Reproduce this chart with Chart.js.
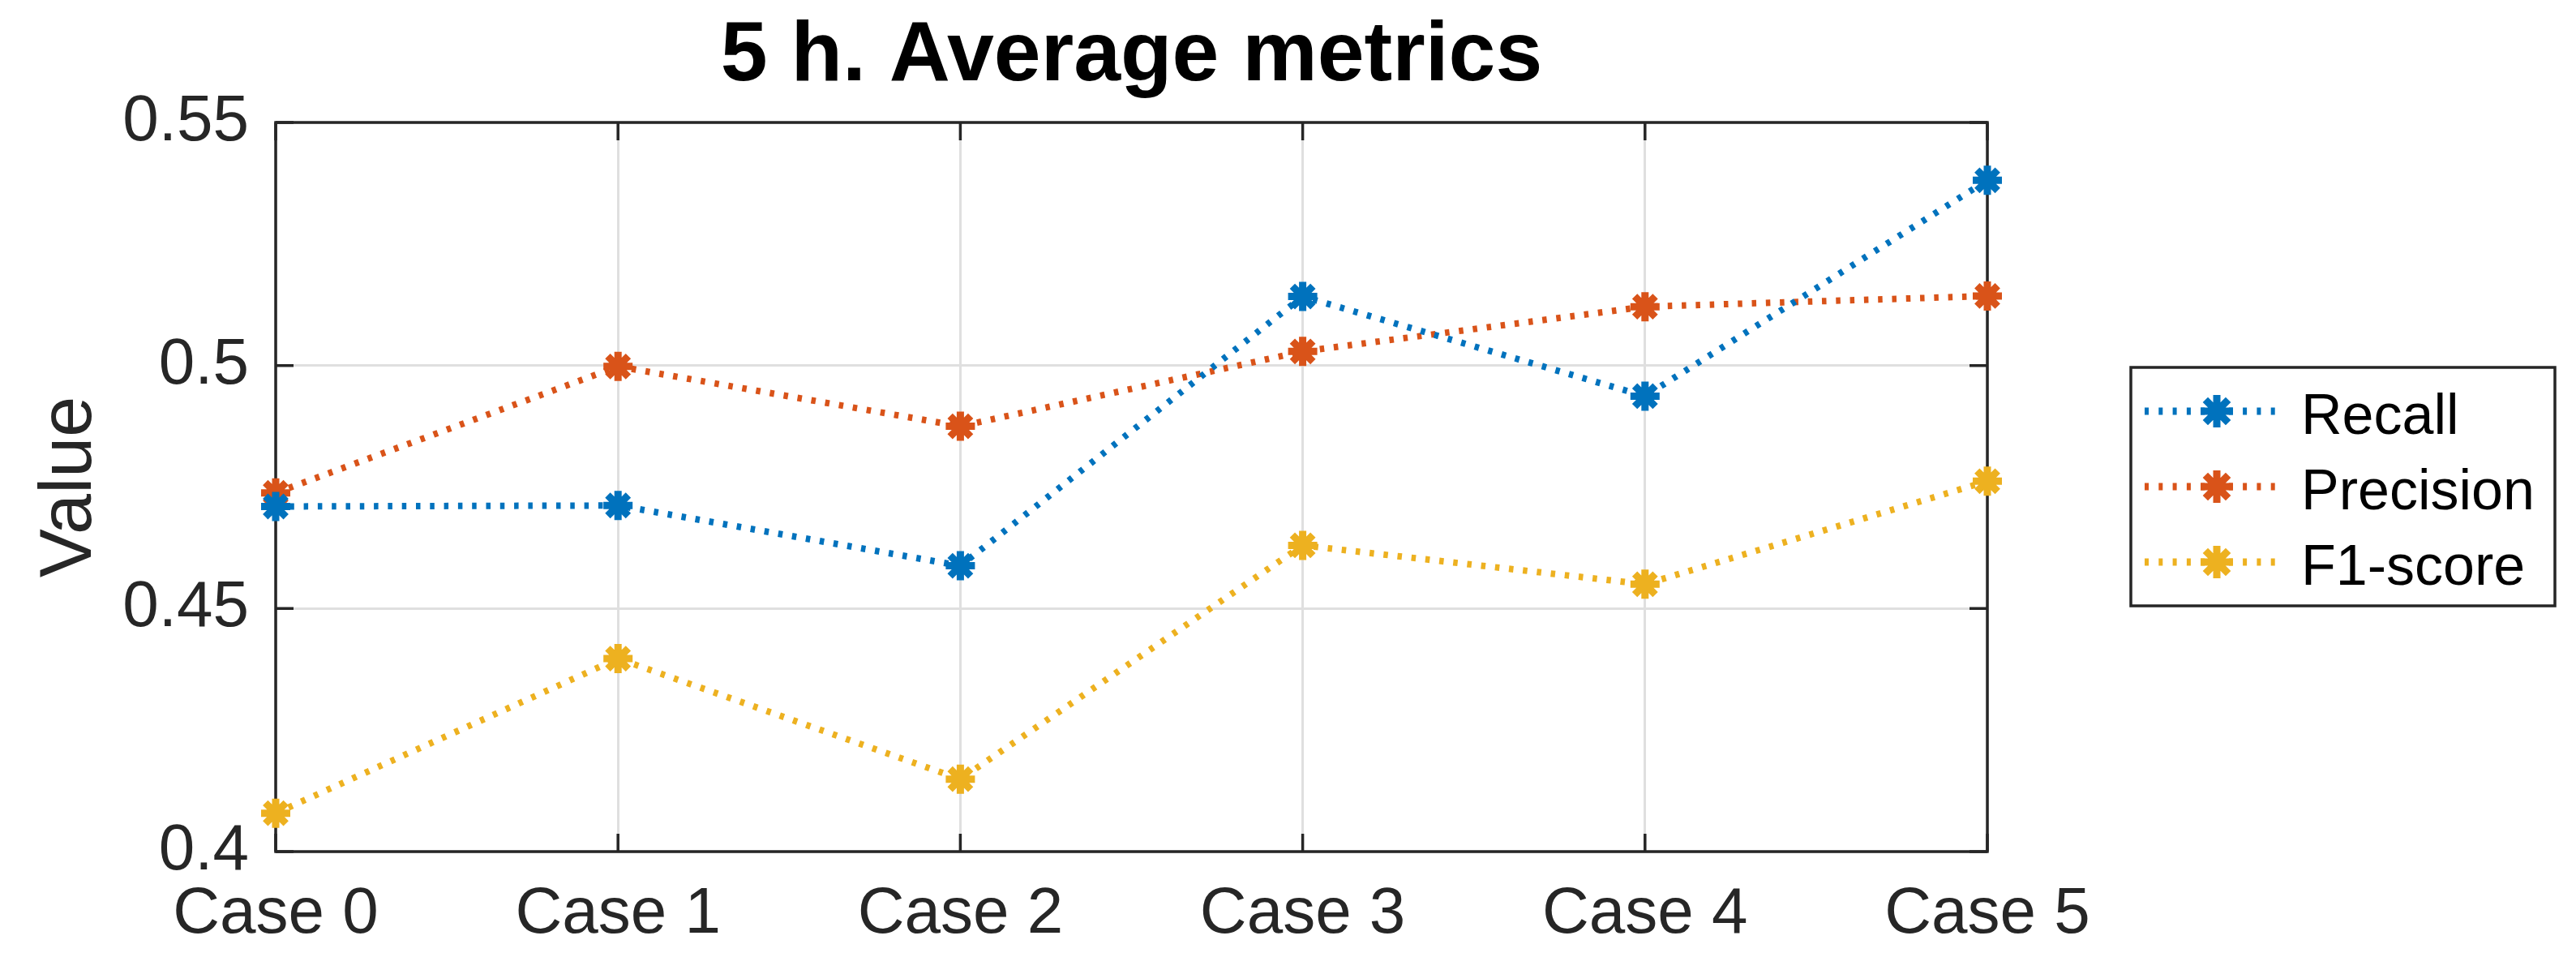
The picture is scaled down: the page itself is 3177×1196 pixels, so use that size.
<!DOCTYPE html>
<html>
<head>
<meta charset="utf-8">
<script src="https://cdn.jsdelivr.net/npm/chart.js@4"></script>
<style>
  html, body { margin: 0; padding: 0; background: #fff; }
  canvas { display: block; }
</style>
</head>
<body>
<canvas id="c" width="3177" height="1196"></canvas>
<script>
const categories = ['Case 0', 'Case 1', 'Case 2', 'Case 3', 'Case 4', 'Case 5'];
const recall    = [0.4710, 0.4712, 0.4588, 0.5142, 0.4937, 0.5381];
const precision = [0.4738, 0.4998, 0.4875, 0.5029, 0.5121, 0.5143];
const f1score   = [0.4079, 0.4397, 0.4149, 0.4630, 0.4550, 0.4762];
const seriesNames = ['Recall', 'Precision', 'F1-score'];
const seriesColors = ['#0072BD', '#D95319', '#EDB120'];
const yTicks = [0.4, 0.45, 0.5, 0.55];
const yMin = 0.4, yMax = 0.55;

const FONT = '"Liberation Sans", Arial, Helvetica, sans-serif';
const AXIS_COLOR = '#262626';

function makeDataset(label, data, color) {
  return {
    label: label,
    data: data,
    borderColor: color,
    backgroundColor: color,
    borderWidth: 8,
    borderDash: [5.5, 11.8],
    borderCapStyle: 'butt',
    tension: 0,
    fill: false,
    pointStyle: 'star',
    pointRadius: 18,
    pointHoverRadius: 18,
    pointBorderWidth: 9,
    pointBorderColor: color,
    pointBackgroundColor: color,
    clip: false
  };
}

const boxPlugin = {
  id: 'boxPlugin',
  beforeDatasetsDraw(chart) {
    const ctx = chart.ctx;
    const a = chart.chartArea;
    const xs = chart.scales.x, ys = chart.scales.y;
    const tl = 22;
    ctx.save();
    ctx.strokeStyle = AXIS_COLOR;
    ctx.lineWidth = 3.5;
    ctx.setLineDash([]);
    ctx.beginPath();
    xs.ticks.forEach((t, i) => {
      const px = xs.getPixelForTick(i);
      ctx.moveTo(px, a.bottom); ctx.lineTo(px, a.bottom - tl);
      ctx.moveTo(px, a.top); ctx.lineTo(px, a.top + tl);
    });
    ys.ticks.forEach((t) => {
      const py = ys.getPixelForValue(t.value);
      ctx.moveTo(a.left, py); ctx.lineTo(a.left + tl, py);
      ctx.moveTo(a.right, py); ctx.lineTo(a.right - tl, py);
    });
    ctx.stroke();
    ctx.strokeRect(a.left, a.top, a.right - a.left, a.bottom - a.top);
    ctx.restore();
  }
};

const legendPlugin = {
  id: 'boxLegend',
  afterDraw(chart) {
    const ctx = chart.ctx;
    const left = 2628, top = 453, right = 3151, bottom = 747;
    ctx.save();
    ctx.fillStyle = '#ffffff';
    ctx.fillRect(left, top, right - left, bottom - top);
    ctx.strokeStyle = AXIS_COLOR;
    ctx.lineWidth = 3.5;
    ctx.setLineDash([]);
    ctx.strokeRect(left, top, right - left, bottom - top);
    const rowY = [507, 600, 693];
    chart.data.datasets.forEach((ds, i) => {
      const y = rowY[i];
      ctx.strokeStyle = ds.borderColor;
      ctx.lineWidth = 9;
      ctx.setLineDash([5, 12.3]);
      ctx.lineCap = 'butt';
      ctx.beginPath();
      ctx.moveTo(2645, y);
      ctx.lineTo(2810, y);
      ctx.stroke();
      ctx.setLineDash([]);
      ctx.strokeStyle = ds.pointBorderColor;
      ctx.fillStyle = ds.pointBackgroundColor;
      ctx.lineWidth = ds.pointBorderWidth;
      Chart.helpers.drawPoint(ctx, {
        pointStyle: 'star', radius: 20, borderWidth: ds.pointBorderWidth, rotation: 0
      }, 2734, y);
      ctx.fillStyle = '#000000';
      ctx.font = '70px ' + FONT;
      ctx.textBaseline = 'alphabetic';
      ctx.textAlign = 'left';
      ctx.fillText(ds.label, 2838, y + 28);
    });
    ctx.restore();
  }
};

const chart = new Chart(document.getElementById('c'), {
  type: 'line',
  data: {
    labels: categories,
    datasets: [
      makeDataset(seriesNames[0], recall, seriesColors[0]),
      makeDataset(seriesNames[1], precision, seriesColors[1]),
      makeDataset(seriesNames[2], f1score, seriesColors[2])
    ]
  },
  options: {
    responsive: false,
    devicePixelRatio: 1,
    animation: false,
    events: [],
    layout: { padding: { left: 0, right: 726, top: 0, bottom: 0 } },
    plugins: {
      legend: { display: false },
      tooltip: { enabled: false },
      title: {
        display: true,
        text: '5 h. Average metrics',
        color: '#000000',
        fullSize: false,
        font: { family: FONT, size: 104, weight: 'bold', lineHeight: 1.2 },
        padding: { top: 8, bottom: 18.2 }
      }
    },
    scales: {
      x: {
        type: 'category',
        offset: false,
        grid: { color: '#dfdfdf', lineWidth: 3, drawTicks: false },
        border: { display: false },
        ticks: {
          color: AXIS_COLOR,
          font: { family: FONT, size: 80 },
          padding: 30,
          maxRotation: 0,
          autoSkip: false
        },
        afterFit(scale) { scale.height = 146; }
      },
      y: {
        min: yMin,
        max: yMax,
        grid: { color: '#dfdfdf', lineWidth: 3, drawTicks: false },
        border: { display: false },
        afterBuildTicks(scale) { scale.ticks = yTicks.map(v => ({ value: v })); },
        ticks: {
          color: AXIS_COLOR,
          font: { family: FONT, size: 80 },
          padding: 33,
          callback: (v) => String(v)
        },
        title: {
          display: true,
          text: 'Value',
          color: AXIS_COLOR,
          font: { family: FONT, size: 90 },
          padding: { top: 33, bottom: 0 }
        },
        afterFit(scale) { scale.width = 340; }
      }
    }
  },
  plugins: [boxPlugin, legendPlugin]
});
</script>
</body>
</html>
